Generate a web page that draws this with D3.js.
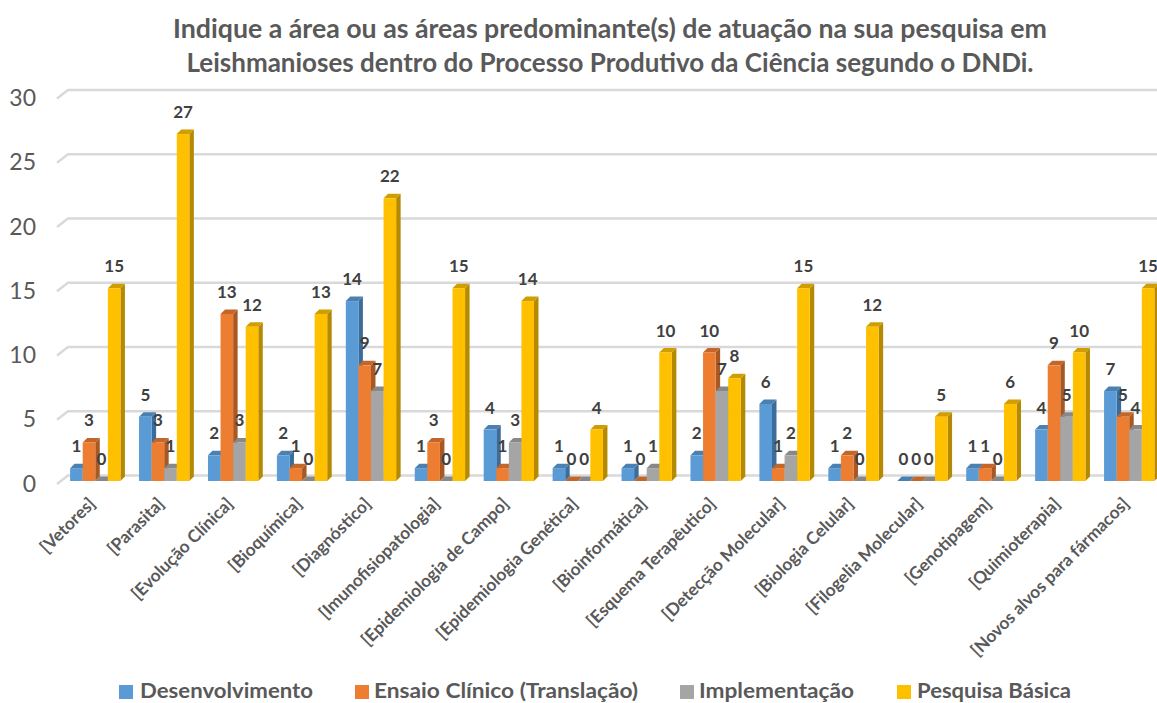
<!DOCTYPE html>
<html><head><meta charset="utf-8">
<script src="https://cdn.jsdelivr.net/npm/d3@7/dist/d3.min.js"></script>
<style>html,body{margin:0;padding:0;background:#fff}svg{display:block}text{font-family:Lato,"Open Sans",sans-serif}</style>
</head><body><svg id="c" width="1157" height="703"></svg>
<script>
const categories=["[Vetores]","[Parasita]","[Evolução Clínica]","[Bioquímica]","[Diagnóstico]","[Imunofisiopatologia]","[Epidemiologia de Campo]","[Epidemiologia Genética]","[Bioinformática]","[Esquema Terapêutico]","[Detecção Molecular]","[Biologia Celular]","[Filogelia Molecular]","[Genotipagem]","[Quimioterapia]","[Novos alvos para fármacos]"];
const seriesNames=["Desenvolvimento","Ensaio Clínico (Translação)","Implementação","Pesquisa Básica"];
const desenvolvimento=[1,5,2,2,14,1,4,1,1,2,6,1,0,1,4,7];
const ensaio=[3,3,13,1,9,3,1,0,0,10,1,2,0,1,9,5];
const implementacao=[0,1,3,0,7,0,3,0,1,7,2,0,0,0,5,4];
const pesquisa=[15,27,12,13,22,15,14,4,10,8,15,12,5,6,10,15];
const yTicks=[0,5,10,15,20,25,30];
const titleLines=["Indique a área ou as áreas predominante(s) de atuação na sua pesquisa em","Leishmanioses dentro do Processo Produtivo da Ciência segundo o DNDi."];
const fronts=["#5b9bd5","#ed7d31","#a5a5a5","#ffc000"];
const sides=["#3a6d9c","#a85823","#757575","#b58900"];
const tops=["#4a80b2","#c2662a","#888888","#d09e00"];
const allSeries=[desenvolvimento,ensaio,implementacao,pesquisa];

const svg=d3.select("#c");
const D=4.5, gridDx=11, gridDy=5.5;
const y=d3.scaleLinear().domain([0,30]).range([481,95.5]);
const step=68.93, x0=60.8;
const x=d3.scaleBand().domain(categories).range([x0,x0+step*16]).paddingInner(0.27).paddingOuter(0.135);
const inner=d3.scaleBand().domain(d3.range(4)).range([0,x.bandwidth()]);

const titleWidths=[874,847];
svg.append("g").selectAll("text").data(titleLines).join("text")
  .attr("x",610).attr("y",(d,i)=>[38,72][i]).attr("text-anchor","middle")
  .attr("textLength",(d,i)=>titleWidths[i]).attr("lengthAdjust","spacingAndGlyphs")
  .attr("font-size",26.7).attr("font-weight",700).attr("fill","#595959").text(d=>d);

const grid=svg.append("g");
yTicks.forEach(t=>{
  const yy=y(t);
  grid.append("path").attr("d",`M57,${yy+3}L${57+gridDx},${yy-gridDy}L1157,${yy-gridDy}`)
    .attr("fill","none").attr("stroke","#d9d9d9").attr("stroke-width",2.4);
  svg.append("text").attr("x",36).attr("y",yy+10.5).attr("text-anchor","end")
    .attr("font-size",23).attr("fill","#595959").text(t);
});

const bars=svg.append("g");
categories.forEach((c,ci)=>{
  for(let s=0;s<4;s++){
    const v=allSeries[s][ci], bx=x(c)+inner(s), w=inner.bandwidth(), ty=y(v), by=y(0);
    const g=bars.append("g");
    g.append("path").attr("d",`M${bx+w},${ty}l${D},${-D}L${bx+w+D},${by-D}L${bx+w},${by}Z`).attr("fill",sides[s]);
    g.append("path").attr("d",`M${bx},${ty}l${D},${-D}h${w}l${-D},${D}Z`).attr("fill",tops[s]);
    if(v>0) g.append("rect").attr("x",bx).attr("y",ty).attr("width",w).attr("height",by-ty).attr("fill",fronts[s]);
  }
});

const labels=svg.append("g");
categories.forEach((c,ci)=>{
  allSeries.forEach((arr,s)=>{
    labels.append("text").attr("x",x(c)+inner(s)+inner.bandwidth()/2).attr("y",y(arr[ci])-16)
      .attr("text-anchor","middle").attr("font-size",17).attr("font-weight",700).attr("fill","#404040").text(arr[ci]);
  });
  const cx=x(c)+x.bandwidth()/2+1;
  svg.append("text").attr("transform",`translate(${cx},${505}) rotate(-45)`).attr("text-anchor","end")
    .attr("font-size",17.3).attr("font-weight",700).attr("fill","#595959").text(c);
});

const legX=[119,355,680,897], legT=[140,374,699,917], legW=[173,264,155,154];
seriesNames.forEach((n,i)=>{
  svg.append("rect").attr("x",legX[i]).attr("y",685).attr("width",14).attr("height",14).attr("fill",fronts[i]);
  svg.append("text").attr("x",legT[i]).attr("y",698).attr("font-size",21.5)
    .attr("textLength",legW[i]).attr("lengthAdjust","spacingAndGlyphs")
    .attr("font-weight",700).attr("fill","#595959").text(n);
});
</script></body></html>
